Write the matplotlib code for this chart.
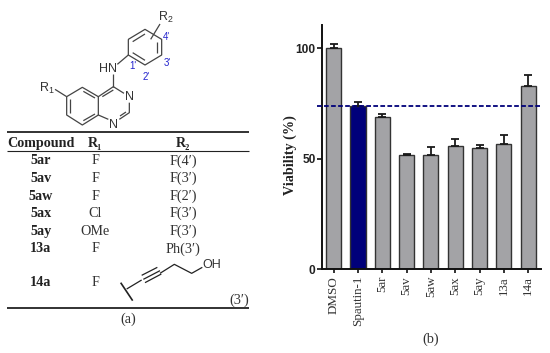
import matplotlib
matplotlib.use('Agg')
import numpy as np
import matplotlib.pyplot as plt

plt.rcParams['mathtext.fontset'] = 'custom'
plt.rcParams['mathtext.rm'] = 'Liberation Sans'

# bar chart values
compounds = ['DMSO', 'Spautin-1', '5ar', '5av', '5aw', '5ax', '5ay', '13a', '14a']
viability = [100, 74, 68.9, 51.5, 51.5, 55.9, 55, 56.5, 82.9]
err_up = [2, 1.8, 1.1, 0.8, 3.9, 3, 1.2, 4.3, 5]
threshold = 74

# table
table_rows = ['5ar', '5av', '5aw', '5ax', '5ay', '13a', '14a']
table_r1 = ['F', 'F', 'F', 'Cl', 'OMe', 'F', 'F']
table_r2 = ['F(4′)', 'F(3′)', 'F(2′)', 'F(3′)', 'F(3′)', 'Ph(3′)', '']
row_y = [161, 178.3, 196, 213.7, 231.7, 249, 282.7]

SERIF = ['Liberation Serif', 'DejaVu Serif']
SANS = ['Liberation Sans', 'DejaVu Sans']
W, H = 550, 353

fig = plt.figure(figsize=(W / 100, H / 100), dpi=100)

# left panel is drawn in pixel coordinates
pan = fig.add_axes([0, 0, 1, 1])
pan.set_xlim(0, W)
pan.set_ylim(H, 0)
pan.axis('off')


def line(pts, lw=0.9, color='#444444'):
    pts = np.array(pts) / 3.0
    pan.plot(pts[:, 0], pts[:, 1], color=color, lw=lw, solid_capstyle='butt')


# structure, points read from a 3x zoom
line([(385, 118), (435, 88), (485, 118), (485, 165), (435, 195), (385, 165), (385, 118)])
line([(398, 125), (435, 102)])
line([(472, 125), (472, 160)])
line([(398, 158), (435, 181)])
line([(452, 118), (480, 72)])
line([(352, 193), (385, 165)])
line([(340, 222), (340, 260)])
line([(340, 260), (372, 280)])
line([(388, 308), (388, 338), (358, 358)])
line([(378, 336), (360, 348)])
line([(325, 358), (295, 345), (295, 290), (340, 260)])
line([(307, 290), (340, 270)])
line([(295, 290), (247, 262), (200, 290), (200, 345), (247, 375), (295, 345)])
line([(250, 274), (285, 294)])
line([(210, 298), (210, 338)])
line([(250, 362), (285, 342)])
line([(165, 268), (200, 290)])
for s, x, y in [('R$_2$', 166, 17.5), ('HN', 108, 68.5), ('N', 129.5, 97), ('N', 113, 124.5), ('R$_1$', 47, 88.5)]:
    pan.text(x, y, s, family=SANS, fontsize=9, color='#333333', ha='center', va='center')
for s, x, y in [("4'", 166, 37.5), ("3'", 167.5, 63.5), ("2'", 146.5, 77), ("1'", 133, 66)]:
    pan.text(x, y, s, family=SANS, fontsize=7, color='#2222cc', ha='center', va='center')

# table rules
for yy, lw in [(132, 1.3), (151, 0.8), (307.7, 1.3)]:
    pan.plot([7, 249], [yy, yy], color='#222222', lw=lw, solid_capstyle='butt')
pan.text(40.7, 143, 'Compound', family=SERIF, fontsize=10.2, fontweight='bold', color='#222222', ha='center', va='center')
pan.text(95, 143, 'R₁', family=SERIF, fontsize=10.2, fontweight='bold', color='#222222', ha='center', va='center')
pan.text(183, 143, 'R₂', family=SERIF, fontsize=10.2, fontweight='bold', color='#222222', ha='center', va='center')
for name, r1, r2, yy in zip(table_rows, table_r1, table_r2, row_y):
    pan.text(40.7, yy, name, family=SERIF, fontsize=10.2, fontweight='bold', color='#222222', ha='center', va='center')
    pan.text(95, yy, r1, family=SERIF, fontsize=10.2, color='#333333', ha='center', va='center')
    pan.text(183, yy, r2, family=SERIF, fontsize=10.2, color='#333333', ha='center', va='center')

# alkyne side chain of 14a
line([(362, 848), (398, 902)], lw=1.2, color='#222222')
line([(380, 867), (425, 840)], color='#222222')
line([(425, 826), (472, 802)], color='#222222')
line([(430, 838), (480, 812)], color='#222222')
line([(435, 848), (484, 822)], color='#222222')
line([(480, 820), (523, 793), (575, 820), (607, 802)], color='#222222')
pan.text(211.5, 265, 'OH', family=SANS, fontsize=9, color='#333333', ha='center', va='center')
pan.text(239, 300, '(3′)', family=SERIF, fontsize=10.2, color='#333333', ha='center', va='center')
pan.text(128, 319, '(a)', family=SERIF, fontsize=10.2, color='#333333', ha='center', va='center')
pan.text(431, 339, '(b)', family=SERIF, fontsize=10.2, color='#333333', ha='center', va='center')

# bar chart, axes box set so bars land at 24.3 px spacing
ax = fig.add_axes([322 / W, 1 - 269 / H, (541 - 322) / W, (269 - 25) / H])
ax.patch.set_alpha(0)
x = np.arange(len(compounds))
colors = ['#a3a3a6'] * len(compounds)
colors[1] = '#00007a'
ax.bar(x, viability, width=0.62, color=colors, edgecolor='#333333', linewidth=1.0)
ax.errorbar(x, viability, yerr=[np.zeros(len(x)), err_up], fmt='none', ecolor='#1a1a1a', elinewidth=1.3, capsize=3.2, capthick=1.3)
ax.plot([-0.68, 8.53], [threshold, threshold], color='#00007a', lw=1.3, ls=(0, (2.6, 1.3)), clip_on=False, zorder=5)
ax.set_xlim(-0.481, 8.53)
ax.set_ylim(0, 110.5)
ax.spines['top'].set_visible(False)
ax.spines['right'].set_visible(False)
ax.spines['left'].set_linewidth(1.4)
ax.spines['bottom'].set_linewidth(1.4)
ax.spines['left'].set_color('#111111')
ax.spines['bottom'].set_color('#111111')
ax.set_yticks([0, 50, 100])
ax.set_yticklabels(['0', '50', '100'], family=SANS, fontweight='bold', fontsize=8.6, color='#222222')
ax.set_xticks(x)
ax.set_xticklabels(compounds, rotation=90, family=SERIF, fontsize=9.4, color='#333333')
ax.tick_params(axis='y', width=1.2, length=3.6, pad=1, color='#111111')
ax.tick_params(axis='x', width=1.2, length=3.0, pad=2, color='#111111')
ax.set_ylabel('Viability (%)', family=SERIF, fontweight='bold', fontsize=10.2, color='#222222', labelpad=0)
ax.yaxis.set_label_coords((297 - 322) / (541 - 322), (269 - 155) / (269 - 25))

fig.savefig('out.png', dpi=100)
